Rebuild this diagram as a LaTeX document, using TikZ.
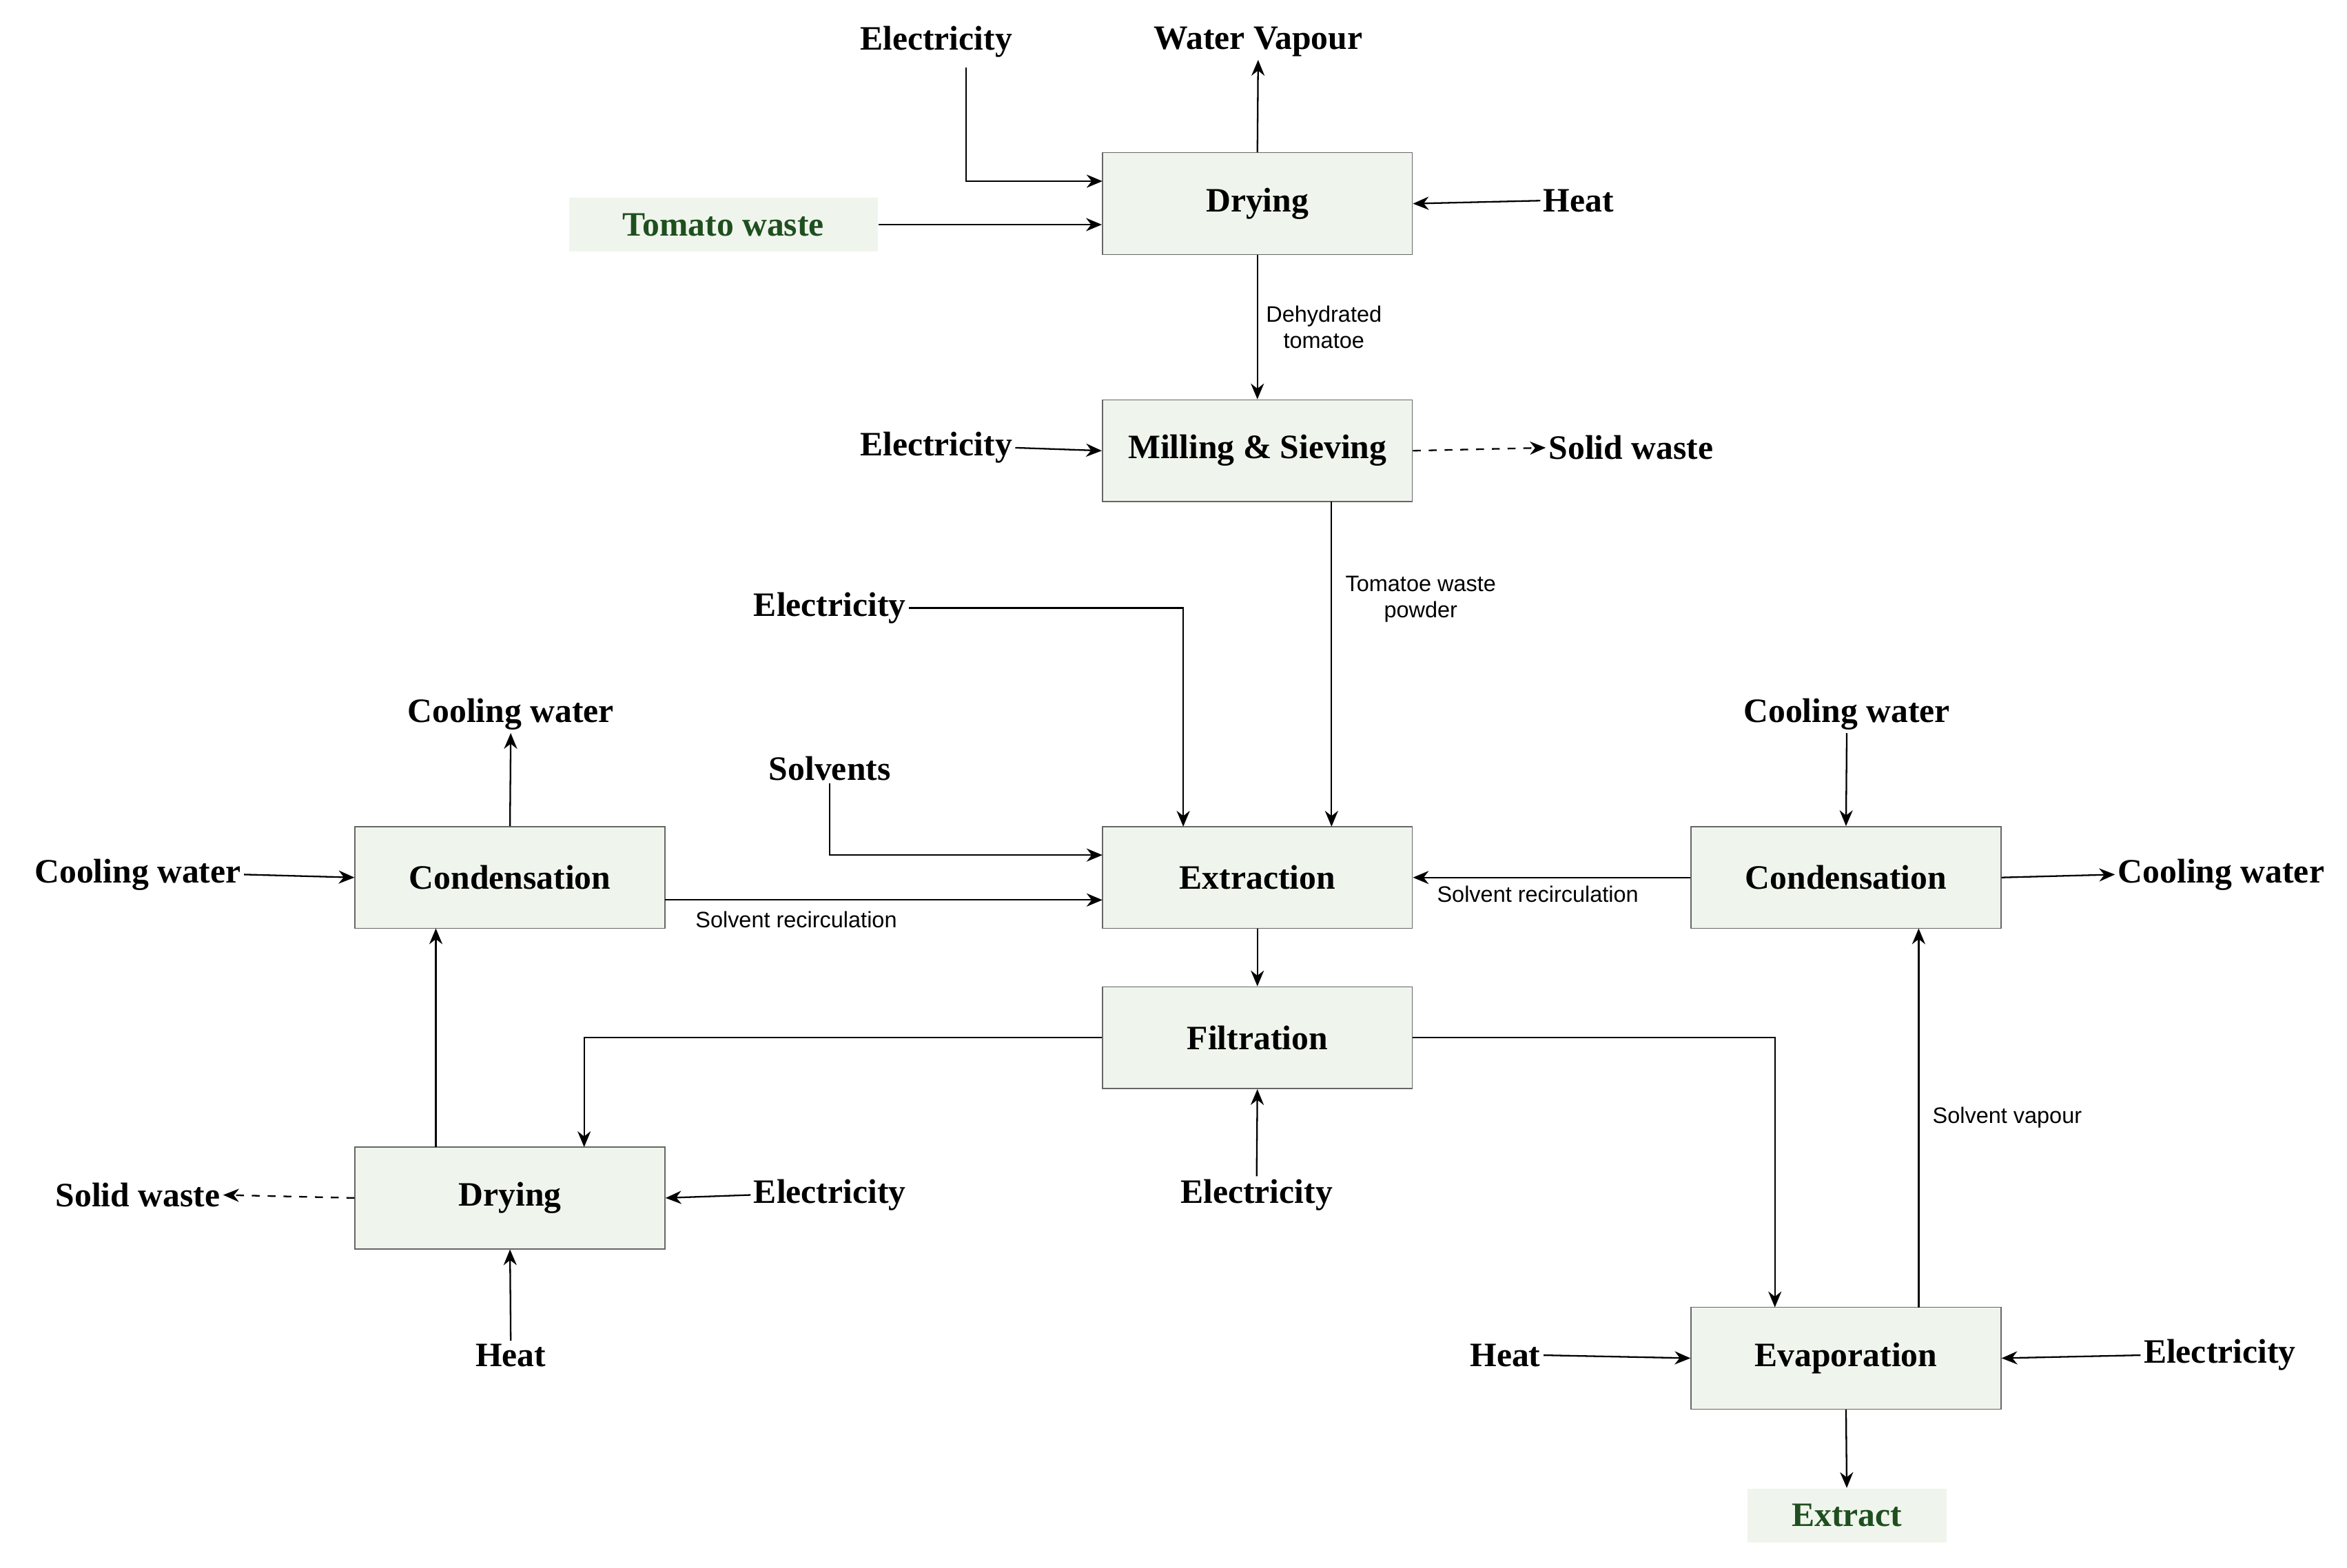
\documentclass[tikz,border=0pt]{standalone}
\usepackage{fontspec}
\setmainfont{Liberation Serif}
\newfontfamily\lsans{Liberation Sans}
\usetikzlibrary{arrows.meta}
\definecolor{boxfill}{HTML}{EFF5EC}
\definecolor{tgreen}{HTML}{1F4F1F}
\begin{document}
\begin{tikzpicture}[x=0.02cm,y=-0.02cm,
 box/.style={draw=black!60,fill=boxfill,minimum width=207*0.02cm,minimum height=68*0.02cm,inner sep=0pt,font=\fontsize{13}{15}\selectfont\bfseries},
 lab/.style={font=\fontsize{13}{15}\selectfont\bfseries,inner sep=1pt},
 glab/.style={lab,text=tgreen,fill=boxfill,minimum height=36*0.02cm},
 sm/.style={font=\lsans\fontsize{8.5}{10}\selectfont,align=center,inner sep=1pt},
 arr/.style={-{Stealth[length=6pt,width=5pt]},line width=0.6pt},
 darr/.style={arr,dashed}]
\useasboundingbox (0,0) rectangle (1567,1047);
\node[box] (dry1) at (839.5,136) {Drying};
\node[box] (mill) at (839.5,301) {Milling \& Sieving};
\node[box] (ext) at (839.5,586) {Extraction};
\node[box] (fil) at (839.5,693) {Filtration};
\node[box] (condL) at (340.5,586) {Condensation};
\node[box] (dryL) at (340.5,800) {Drying};
\node[box] (condR) at (1232.5,586) {Condensation};
\node[box] (evap) at (1232.5,907) {Evaporation};

\node[lab] (e1) at (625,28) {Electricity};
\node[lab] (wv) at (840,28) {Water Vapour};
\node[glab,minimum width=206*0.02cm] (tw) at (483,150) {Tomato waste};
\node[lab] (h1) at (1054,134) {Heat};
\node[lab] (e2) at (625,299) {Electricity};
\node[lab] (sw1) at (1089,299) {Solid waste};
\node[lab] (e3) at (554,406) {Electricity};
\node[lab] (sol) at (554,513) {Solvents};
\node[lab] (cw1) at (341,477) {Cooling water};
\node[lab] (cw2) at (92,584) {Cooling water};
\node[lab] (cw3) at (1233,477) {Cooling water};
\node[lab] (cw4) at (1483,584) {Cooling water};
\node[lab] (e4) at (839,798) {Electricity};
\node[lab] (sw2) at (92,798) {Solid waste};
\node[lab] (e5) at (554,798) {Electricity};
\node[lab] (h2) at (341,905) {Heat};
\node[lab] (h3) at (1005,905) {Heat};
\node[lab] (e6) at (1482,905) {Electricity};
\node[glab,minimum width=133*0.02cm] (ex) at (1233,1012) {Extract};

\coordinate (p1) at (645,45);
\draw[arr] (p1) |- (736,121);
\draw[arr] (dry1.north) -- (wv.south);
\draw[arr] (tw.east) -- (tw.east -| dry1.west);
\draw[arr] (h1.west) -- (dry1.east);
\draw[arr] (dry1.south) -- node[sm,right=2pt] {Dehydrated\\tomatoe} (mill.north);
\draw[arr] (e2.east) -- (mill.west);
\draw[darr] (mill.east) -- (sw1.west);
\coordinate (p2) at (889,335);
\draw[arr] (p2) -- node[sm,right=4pt,pos=0.3] {Tomatoe waste\\powder} (889,552);
\draw[arr] (e3.east) -| (790,552);
\draw[arr] (sol.south) |- (736,571);
\draw[arr] (condL.north) -- (cw1.south);
\draw[arr] (cw2.east) -- (condL.west);
\draw[arr] (444,601) -- node[sm,below=3pt,pos=0.3] {Solvent recirculation} (736,601);
\draw[arr] (cw3.south) -- (condR.north);
\draw[arr] (condR.east) -- (cw4.west);
\draw[arr] (condR.west) -- node[sm,below=2pt,pos=0.55] {Solvent recirculation} (ext.east);
\draw[arr] (ext.south) -- (fil.north);
\draw[arr] (fil.west) -| (390,766);
\draw[arr] (fil.east) -| (1185,873);
\draw[arr] (e4.north) -- (fil.south);
\draw[arr] (291,766) -- (291,620);
\draw[darr] (dryL.west) -- (sw2.east);
\draw[arr] (e5.west) -- (dryL.east);
\draw[arr] (h2.north) -- (dryL.south);
\draw[arr] (1281,873) -- node[sm,right=4pt,pos=0.5] {Solvent vapour} (1281,620);
\draw[arr] (h3.east) -- (evap.west);
\draw[arr] (e6.west) -- (evap.east);
\draw[arr] (evap.south) -- (ex.north);
\end{tikzpicture}
\end{document}
